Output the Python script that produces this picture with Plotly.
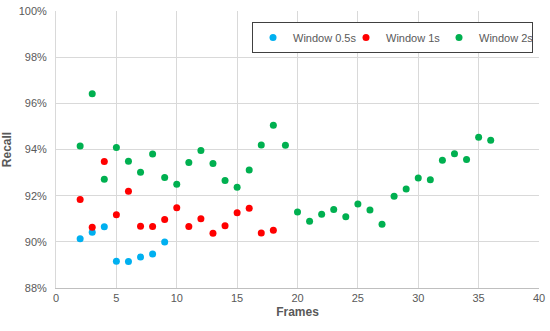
import plotly.graph_objects as go

frames_05 = [2, 3, 4, 5, 6, 7, 8, 9]
recall_05 = [90.13, 90.42, 90.65, 89.16, 89.15, 89.34, 89.47, 89.99]

frames_1 = [2, 3, 4, 5, 6, 7, 8, 9, 10, 11, 12, 13, 14, 15, 16, 17, 18]
recall_1 = [91.83, 90.63, 93.48, 91.17, 92.19, 90.68, 90.66, 90.97, 91.48,
            90.66, 91.00, 90.37, 90.70, 91.26, 91.46, 90.38, 90.50]

frames_2 = list(range(2, 37))
recall_2 = [94.15, 96.42, 92.71, 94.09, 93.49, 93.01, 93.80, 92.79, 92.49,
            93.44, 93.96, 93.39, 92.66, 92.37, 93.11, 94.19, 95.05, 94.18,
            91.29, 90.89, 91.20, 91.40, 91.09, 91.64, 91.38, 90.76, 91.98,
            92.29, 92.76, 92.69, 93.53, 93.82, 93.57, 94.53, 94.40]

series = [
    ("Window 0.5s", frames_05, recall_05, "#00B0F0"),
    ("Window 1s", frames_1, recall_1, "#FF0000"),
    ("Window 2s", frames_2, recall_2, "#00B050"),
]

fig = go.Figure()
for name, xs, ys, col in series:
    fig.add_trace(go.Scatter(x=xs, y=ys, mode="markers", name=name,
                             marker=dict(color=col, size=7, line=dict(width=0))))

font_family = "Liberation Sans, Arial, sans-serif"
fig.update_layout(
    width=550, height=331,
    margin=dict(l=56, r=11, t=11, b=43),
    paper_bgcolor="white", plot_bgcolor="white",
    font=dict(family=font_family, color="#595959", size=11),
    showlegend=True,
    legend=dict(orientation="h", x=0.9876, xanchor="right", y=0.960, yanchor="top",
                bordercolor="#404040", borderwidth=1, bgcolor="white",
                font=dict(size=11, color="#595959"),
                itemwidth=30, tracegroupgap=0,
                entrywidth=48, entrywidthmode="pixels"),
    xaxis=dict(range=[0, 40], dtick=5, tick0=0, showgrid=True, gridcolor="#D9D9D9",
               showline=True, linecolor="#BFBFBF", zeroline=False, ticks="",
               automargin=False, ticklabeloverflow="allow",
               title=dict(text="<b>Frames</b>", standoff=4,
                          font=dict(size=12, color="#595959"))),
    yaxis=dict(range=[88, 100], dtick=2, tick0=88, ticksuffix="%", showgrid=True,
               gridcolor="#D9D9D9", showline=True, linecolor="#D9D9D9", zeroline=False,
               ticks="", automargin=False, ticklabeloverflow="allow",
               ticklabelstandoff=6,
               title=dict(text="<b>Recall</b>", standoff=6,
                          font=dict(size=12, color="#595959"))),
)

# remove the browser's default 8px body margin so the figure fills the window
fig.write_html("out.html",
               config={"displayModeBar": False},
               post_script="document.body.style.margin='0';document.body.style.overflow='hidden';")
